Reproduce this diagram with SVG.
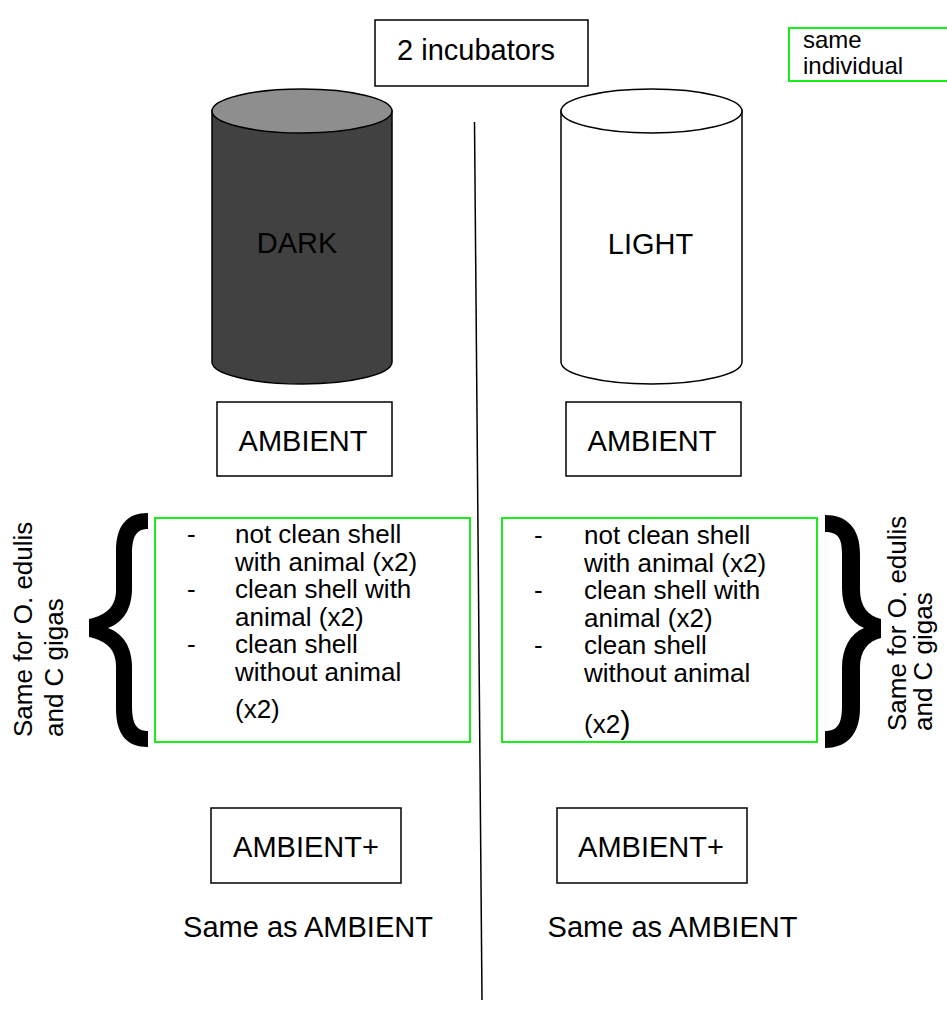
<svg xmlns="http://www.w3.org/2000/svg" width="947" height="1012" viewBox="0 0 947 1012">
<style>
  text { font-family: "Liberation Sans", Arial, sans-serif; fill: #000; }
  .big { font-size: 29px; }
  .mid { font-size: 26px; }
  .sm { font-size: 24px; }
  .box { fill: #fff; stroke: #000; stroke-width: 1.5; }
  .gbox { fill: #fff; stroke: #1aee1a; stroke-width: 2; }
  .cyl { stroke: #000; stroke-width: 1.5; }
  .brace { fill: #000; }
</style>
<rect width="947" height="1012" fill="#fff"/>

<g id="connectors">
  <line x1="474.5" y1="122" x2="482" y2="1000" stroke="#000" stroke-width="1.5"/>
</g>

<g id="title">
  <rect class="box" x="375" y="20" width="213" height="66"/>
  <text class="big" x="476" y="60" text-anchor="middle">2 incubators</text>
</g>

<g id="legend">
  <rect class="gbox" x="789" y="28" width="160" height="53"/>
  <text class="sm" x="803" y="48">same</text>
  <text class="sm" x="803" y="74">individual</text>
</g>

<g id="dark">
  <path class="cyl" fill="#414141" d="M212,111 L212,362 A90,22 0 0 0 392,362 L392,111 Z"/>
  <ellipse class="cyl" fill="#8e8e8e" cx="302" cy="111" rx="90" ry="22"/>
  <text class="big" x="297" y="253" text-anchor="middle">DARK</text>
</g>

<g id="light">
  <path class="cyl" fill="#fff" d="M561,111 L561,362 A90.5,22 0 0 0 742,362 L742,111 Z"/>
  <ellipse class="cyl" fill="#fff" cx="651.5" cy="111" rx="90.5" ry="22"/>
  <text class="big" x="650.5" y="254" text-anchor="middle">LIGHT</text>
</g>

<g id="ambient-left">
  <rect class="box" x="217" y="402" width="175" height="74"/>
  <text class="big" x="303" y="451" text-anchor="middle">AMBIENT</text>
</g>

<g id="ambient-right">
  <rect class="box" x="566" y="402" width="175" height="74"/>
  <text class="big" x="652" y="451" text-anchor="middle">AMBIENT</text>
</g>

<g id="list-left">
  <rect class="gbox" x="155" y="518" width="315" height="224"/>
  <text class="mid" x="187" y="543">-</text>
  <text class="mid" x="235" y="543">not clean shell</text>
  <text class="mid" x="235" y="570.5">with animal (x2)</text>
  <text class="mid" x="187" y="598">-</text>
  <text class="mid" x="235" y="598">clean shell with</text>
  <text class="mid" x="235" y="625.5">animal (x2)</text>
  <text class="mid" x="187" y="653">-</text>
  <text class="mid" x="235" y="653">clean shell</text>
  <text class="mid" x="235" y="680.5">without animal</text>
  <text class="mid" x="235" y="718">(x2)</text>
</g>

<g id="list-right">
  <rect class="gbox" x="502" y="518" width="315" height="224"/>
  <text class="mid" x="534" y="544">-</text>
  <text class="mid" x="584" y="544">not clean shell</text>
  <text class="mid" x="584" y="571.5">with animal (x2)</text>
  <text class="mid" x="534" y="599">-</text>
  <text class="mid" x="584" y="599">clean shell with</text>
  <text class="mid" x="584" y="626.5">animal (x2)</text>
  <text class="mid" x="534" y="654">-</text>
  <text class="mid" x="584" y="654">clean shell</text>
  <text class="mid" x="584" y="681.5">without animal</text>
  <text class="mid" x="584" y="733">(x2<tspan font-size="31px">)</tspan></text>
</g>

<g id="brace-left">
  <path class="brace" d="M148,513 C127,513 116,525 116,552 L116,590 C116,606 107,615 89,619 L89,637 C107,641 116,650 116,666 L116,708 C116,735 127,747 148,747 L148,731 C136,731 132,723 132,706 L132,668 C132,648 124,634 108,628 C124,622 132,608 132,588 L132,554 C132,537 136,529 148,529 Z"/>
  <text class="mid" transform="translate(32,737) rotate(-90)">Same for O. edulis</text>
  <text class="mid" transform="translate(63,737) rotate(-90)">and C gigas</text>
</g>

<g id="brace-right">
  <path class="brace" d="M825,515 C846,515 860,527 860,554 L860,590 C860,606 868,616 881,619 L881,638 C868,641 860,651 860,667 L860,708 C860,735 846,748 825,748 L825,731 C838,731 842,723 842,706 L842,668 C842,648 850,634 864,628 C850,622 842,608 842,588 L842,554 C842,538 838,532 825,532 Z"/>
  <text class="mid" transform="translate(906,731) rotate(-90)">Same for O. edulis</text>
  <text class="mid" transform="translate(932,731) rotate(-90)">and C gigas</text>
</g>

<g id="ambientplus-left">
  <rect class="box" x="211" y="808" width="190" height="75"/>
  <text class="big" x="306" y="857" text-anchor="middle">AMBIENT+</text>
  <text class="big" x="308" y="937" text-anchor="middle">Same as AMBIENT</text>
</g>

<g id="ambientplus-right">
  <rect class="box" x="557" y="808" width="190" height="75"/>
  <text class="big" x="651" y="857" text-anchor="middle">AMBIENT+</text>
  <text class="big" x="672.5" y="937" text-anchor="middle">Same as AMBIENT</text>
</g>
</svg>
